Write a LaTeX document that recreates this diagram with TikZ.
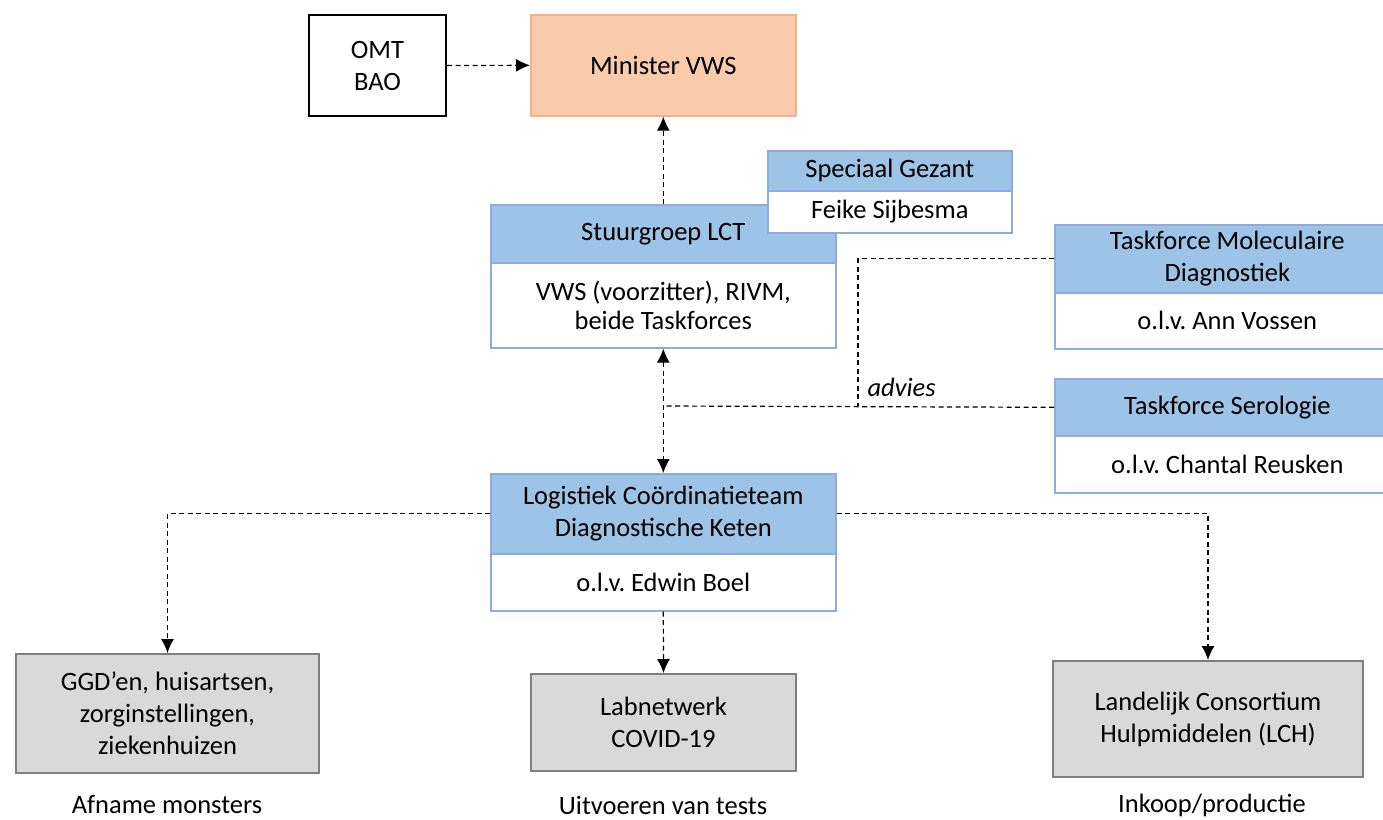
\documentclass[tikz,border=0pt]{standalone}
\usepackage{fontspec}
\setmainfont{Carlito}
\frenchspacing
\usetikzlibrary{arrows.meta}
\definecolor{hdrblue}{HTML}{9DC3E6}
\definecolor{bordblue}{HTML}{8FAADC}
\definecolor{peach}{HTML}{F8CBAD}
\definecolor{peachb}{HTML}{F4B183}
\definecolor{grayf}{HTML}{D9D9D9}
\definecolor{grayb}{HTML}{7F7F7F}
\tikzset{
  box/.style={rectangle, inner sep=0pt, anchor=north west, align=center, font=\fontsize{26.5}{32}\selectfont, line width=1.6pt},
  hdr/.style={box, fill=hdrblue, draw=bordblue},
  bod/.style={box, fill=white, draw=bordblue},
  grybox/.style={box, fill=grayf, draw=grayb, line width=2pt},
  dline/.style={dashed, dash pattern=on 5pt off 3.5pt, line width=1.2pt, black},
  arr/.style={-{Latex[length=14pt,width=13pt]}},
  darr/.style={{Latex[length=14pt,width=13pt]}-{Latex[length=14pt,width=13pt]}},
  lbl/.style={font=\fontsize{26.5}{32}\selectfont}
}
\begin{document}
\begin{tikzpicture}[x=1pt,y=-1pt]
\useasboundingbox (0,0) rectangle (1383,819);
% top
\node[box, draw=black, line width=2pt, minimum width=137, minimum height=101] (omt) at (308,14) {OMT\\BAO};
\node[box, fill=peach, draw=peachb, minimum width=265, minimum height=101] (min) at (530,14) {Minister VWS};
% Stuurgroep
\node[hdr, minimum width=345, minimum height=58] (stH) at (490,204) {Stuurgroep LCT};
\node[bod, minimum width=345, minimum height=85, font=\fontsize{26.5}{29}\selectfont] (stB) at (490,262) {VWS (voorzitter), RIVM,\\beide Taskforces};
% Speciaal gezant
\node[hdr, minimum width=244, minimum height=40] (sgH) at (767,150) {Speciaal Gezant};
\node[bod, minimum width=244, minimum height=42] (sgB) at (767,190) {Feike Sijbesma};
% Taskforces
\node[hdr, minimum width=345, minimum height=68] (tmH) at (1054,224) {Taskforce Moleculaire\\Diagnostiek};
\node[bod, minimum width=345, minimum height=56] (tmB) at (1054,292) {o.l.v. Ann Vossen};
\node[hdr, minimum width=345, minimum height=57] (tsH) at (1054,378) {Taskforce Serologie};
\node[bod, minimum width=345, minimum height=57] (tsB) at (1054,435) {o.l.v. Chantal Reusken};
% Logistiek
\node[hdr, minimum width=345, minimum height=80] (lgH) at (490,473) {Logistiek Coördinatieteam\\Diagnostische Keten};
\node[bod, minimum width=345, minimum height=57] (lgB) at (490,553) {o.l.v. Edwin Boel};
% bottom
\node[grybox, minimum width=303, minimum height=119] (ggd) at (15,653) {GGD’en, huisartsen,\\zorginstellingen,\\ziekenhuizen};
\node[grybox, minimum width=265, minimum height=97] (lab) at (530,673) {Labnetwerk\\COVID-19};
\node[grybox, minimum width=310, minimum height=116] (lch) at (1052,660) {Landelijk Consortium\\Hulpmiddelen (LCH)};
\node[lbl] (l1) at (167,805) {Afname monsters};
\node[lbl] (l2) at (663,805) {Uitvoeren van tests};
\node[lbl] (l3) at (1212,805) {Inkoop/productie};
% connectors
\coordinate (j1) at (663,406);
\coordinate (k1) at (858,406);
\draw[dline,arr] (omt.east) -- (min.west);
\draw[dline,arr] (stH.north) -- (min.south);
\draw[dline,darr] (stB.south) -- (lgH.north);
\draw[dline] (tsH.west) -- (j1);
\draw[dline] (tmH.west) -| (k1);
\node[lbl, font=\fontsize{26.5}{32}\selectfont\itshape, anchor=south west] (adv) at (864,400) {advies};
\draw[dline,arr] (lgH.west) -| (ggd.north);
\draw[dline,arr] (lgB.south) -- (lab.north);
\draw[dline,arr] (lgH.east) -| (lch.north);
\end{tikzpicture}
\end{document}
